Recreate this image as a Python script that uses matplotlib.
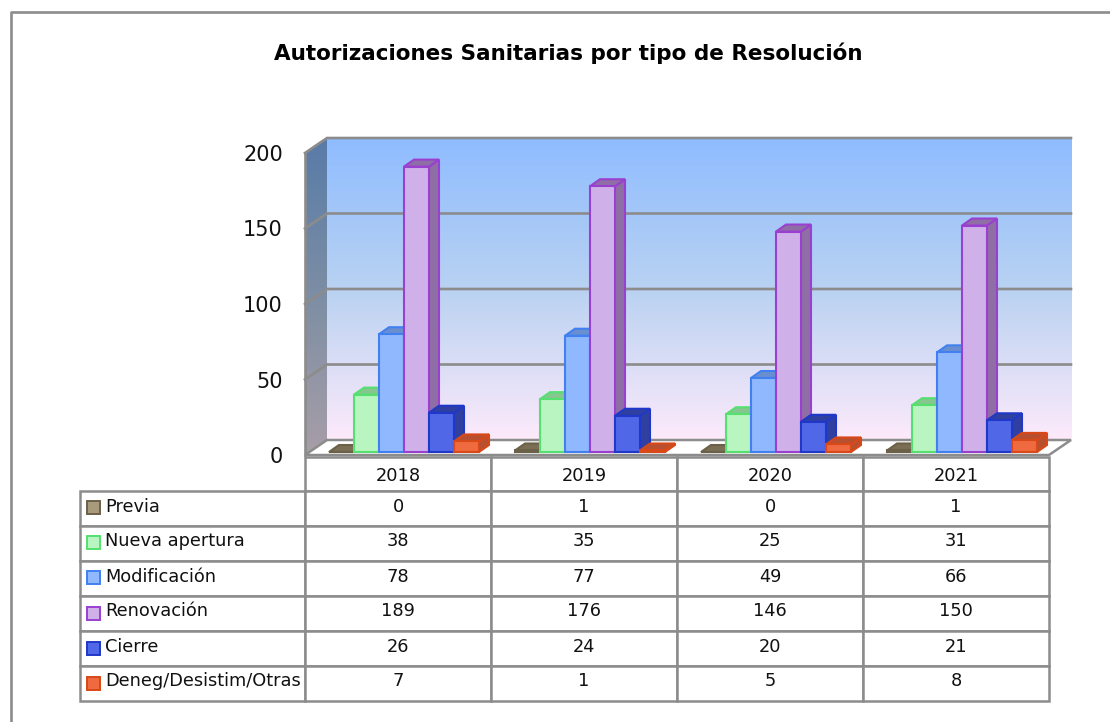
import numpy as np
import matplotlib
matplotlib.use("Agg")
import matplotlib.pyplot as plt
from matplotlib.colors import LinearSegmentedColormap
from matplotlib.lines import Line2D
from matplotlib.patches import Polygon, Rectangle
from matplotlib.transforms import Affine2D

W, H = 1110, 722

years = ["2018", "2019", "2020", "2021"]
series = ["Previa", "Nueva apertura", "Modificación", "Renovación", "Cierre", "Deneg/Desistim/Otras"]
previa = [0, 1, 0, 1]
nueva = [38, 35, 25, 31]
modificacion = [78, 77, 49, 66]
renovacion = [189, 176, 146, 150]
cierre = [26, 24, 20, 21]
deneg = [7, 1, 5, 8]
values = [previa, nueva, modificacion, renovacion, cierre, deneg]

# face, borde, lado/tapa
faces = ["#a89a7c", "#b8f5c0", "#90b8ff", "#d0b0e8", "#5068e8", "#f06a40"]
edges = ["#6b6048", "#55e070", "#4080f0", "#9a40d0", "#2038c8", "#d84818"]
sides = ["#7a6e55", "#85c78f", "#6a8fd0", "#8f6ea5", "#3040a0", "#b85030"]
GREY = "#8c8c8c"


def figpt(x, y):
    return x / W, 1 - y / H


fig = plt.figure(figsize=(W / 100, H / 100), dpi=100, facecolor="white")
ax = fig.add_axes([305 / W, 1 - 455 / H, 744 / W, 302 / H])
ax.set_xlim(0, 4)
ax.set_ylim(0, 200)

# conversion pixels -> unidades de datos
px_x = 4 / 744
px_y = 200 / 302
wall_dx, wall_dy = 22 * px_x, 15 * px_y

# paredes con degradado
back = LinearSegmentedColormap.from_list("back", ["#fdeafb", "#b9d2f2", "#8fbcff"])
side = LinearSegmentedColormap.from_list("side", ["#a89ea8", "#7d8ea4", "#587ba8"])
grad = np.linspace(0, 1, 256).reshape(-1, 1)
ax.imshow(grad, origin="lower", cmap=back, aspect="auto", clip_on=False, zorder=1,
          extent=[wall_dx, 4 + wall_dx, wall_dy, 200 + wall_dy])
left_wall = Polygon([(0, 0), (wall_dx, wall_dy), (wall_dx, 200 + wall_dy), (0, 200)],
                    closed=True, fc="none", ec="none", transform=ax.transData, clip_on=False)
ax.add_patch(left_wall)
im = ax.imshow(grad, origin="lower", cmap=side, aspect="auto", zorder=1,
               extent=[0, wall_dx, 0, 200 + wall_dy])
im.set_clip_box(fig.bbox)
im.set_clip_path(left_wall)
ax.set_xlim(0, 4)
ax.set_ylim(0, 200)

# suelo
ax.add_patch(Polygon([(0, 0), (4, 0), (4 + wall_dx, wall_dy), (wall_dx, wall_dy)], closed=True,
                     fc="white", ec=GREY, lw=1.8, clip_on=False, zorder=2))

# rejilla
for v in [50, 100, 150, 200]:
    ax.plot([0, wall_dx, 4 + wall_dx], [v, v + wall_dy, v + wall_dy], color=GREY, lw=1.9,
            clip_on=False, zorder=2, solid_joinstyle="miter")
ax.plot([0, 0], [0, 200], color=GREY, lw=1.9, clip_on=False, zorder=2)

# barras
bar_w = 25 * px_x
start = 24 * px_x
base = 3 * px_y
dep_x, dep_y = 10 * px_x, 7 * px_y
z = 3
for i, year in enumerate(years):
    for j in range(len(series)):
        x0 = i + start + j * bar_w
        x1 = x0 + bar_w
        y1 = base + values[j][i]
        kw = dict(closed=True, ec=edges[j], lw=1.5, clip_on=False, zorder=z, joinstyle="miter")
        ax.add_patch(Polygon([(x1, base), (x1 + dep_x, base + dep_y), (x1 + dep_x, y1 + dep_y), (x1, y1)],
                             fc=sides[j], **kw))
        ax.add_patch(Polygon([(x0, y1), (x1, y1), (x1 + dep_x, y1 + dep_y), (x0 + dep_x, y1 + dep_y)],
                             fc=sides[j], **kw))
        ax.add_patch(Polygon([(x0, base), (x1, base), (x1, y1), (x0, y1)], fc=faces[j], **kw))
        z += 1

# ejes
for s in ax.spines.values():
    s.set_visible(False)
ax.set_xticks([])
ax.set_yticks([0, 50, 100, 150, 200])
ax.tick_params(axis="y", length=0, pad=16, labelsize=15, labelcolor="#111111")

# tabla
col_w = 186 / 744
label_w = 225 / 744
cells = [[""] + years] + [[name] + [str(v) for v in vals] for name, vals in zip(series, values)]
tb = ax.table(cellText=cells, colWidths=[label_w] + [col_w] * 4, cellLoc="center",
              bbox=[-225 / 744, -246 / 302, 969 / 744, 244 / 302], zorder=20)
tb.auto_set_font_size(False)
tb.set_fontsize(12.8)
heights = [34, 35, 35, 35, 35, 35, 35]
for (r, c), cell in tb.get_celld().items():
    cell.set_height(heights[r])
    cell.set_edgecolor(GREY)
    cell.set_linewidth(1.8)
    txt = cell.get_text()
    txt.set_color("#111111")
    txt.set_transform(Affine2D().translate(0, -2 if r == 0 else 2))
    if c == 0:
        cell.PAD = 25 / 225
        cell.set_text_props(ha="left")
tb[(0, 0)].set_visible(False)

# muestras de la leyenda
rows_top = [490, 525, 560, 596, 631, 666]
for j, top in enumerate(rows_top):
    x, y = figpt(87, top + 24)
    fig.add_artist(Rectangle((x, y), 13 / W, 13 / H, transform=fig.transFigure, fc=faces[j], ec=edges[j], lw=1.4))

# marco exterior
x0, y0 = figpt(11, 12)
fig.add_artist(Line2D([x0, x0, 1], [0, y0, y0], transform=fig.transFigure, color="#8c8c8c", lw=1.9))

fig.text(*figpt(568, 53), "Autorizaciones Sanitarias por tipo de Resolución", ha="center", va="center",
         fontsize=15.5, fontweight="bold", color="black")

fig.savefig("out.png", dpi=100, facecolor="white")
